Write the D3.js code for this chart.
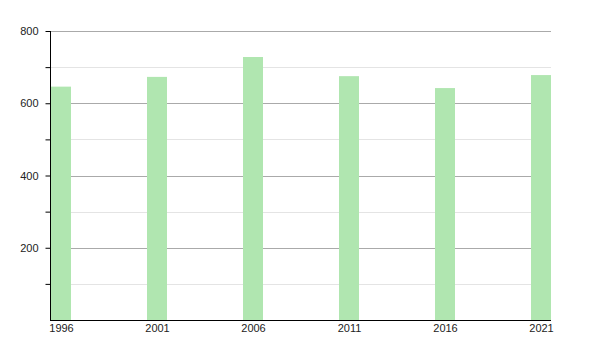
<!DOCTYPE html>
<html>
<head>
<meta charset="utf-8">
<script src="https://cdn.jsdelivr.net/npm/d3@7"></script>
<style>
  body { margin: 0; background: #fff; }
  svg text { font-family: "Liberation Sans", Arial, sans-serif; font-size: 11px; fill: #222; }
</style>
</head>
<body>
<svg id="chart" width="600" height="350"></svg>
<script>
const years = ["1996", "2001", "2006", "2011", "2016", "2021"];
const population = [646, 673, 728, 675, 642, 678];
const majorTicks = [200, 400, 600, 800];
const minorTicks = [100, 300, 500, 700];

const plotLeft = 50, plotRight = 551, plotTop = 31, plotBottom = 320;
const barWidth = 20;

const svg = d3.select("#chart");

const x = d3.scalePoint()
    .domain(years)
    .range([plotLeft + 11, plotRight - 10]);

const y = d3.scaleLinear()
    .domain([0, 800])
    .range([plotBottom, plotTop]);

// gridlines
svg.append("g")
    .selectAll("line")
    .data(minorTicks)
    .join("line")
    .attr("x1", plotLeft).attr("x2", plotRight)
    .attr("y1", d => Math.round(y(d)) + 0.5)
    .attr("y2", d => Math.round(y(d)) + 0.5)
    .attr("stroke", "#e4e4e4");

svg.append("g")
    .selectAll("line")
    .data(majorTicks)
    .join("line")
    .attr("x1", plotLeft).attr("x2", plotRight)
    .attr("y1", d => Math.round(y(d)) + 0.5)
    .attr("y2", d => Math.round(y(d)) + 0.5)
    .attr("stroke", "#aaaaaa");

// bars
svg.append("g")
    .selectAll("rect")
    .data(years)
    .join("rect")
    .attr("x", d => x(d) - barWidth / 2)
    .attr("width", barWidth)
    .attr("y", (d, i) => y(population[i]))
    .attr("height", (d, i) => plotBottom - y(population[i]))
    .attr("fill", "#b0e6b0");

// y axis
const yAxis = svg.append("g")
    .attr("transform", `translate(${plotLeft + 0.5},0)`)
    .call(d3.axisLeft(y)
        .tickValues(majorTicks.concat(minorTicks))
        .tickSize(5)
        .tickFormat(d => majorTicks.includes(d) ? d : ""));
yAxis.select(".domain").attr("d", `M0,${plotTop}V${plotBottom}`).attr("stroke", "#000");
yAxis.selectAll(".tick line").attr("stroke", "#000");
yAxis.selectAll(".tick text").attr("x", -12).attr("fill", "#222");

// x axis
const xAxis = svg.append("g")
    .attr("transform", `translate(0,${plotBottom + 0.5})`)
    .call(d3.axisBottom(x).tickSize(0).tickPadding(4));
xAxis.select(".domain").attr("d", `M${plotLeft},0H${plotRight}`).attr("stroke", "#000");
xAxis.selectAll(".tick text").attr("fill", "#222");
</script>
</body>
</html>
